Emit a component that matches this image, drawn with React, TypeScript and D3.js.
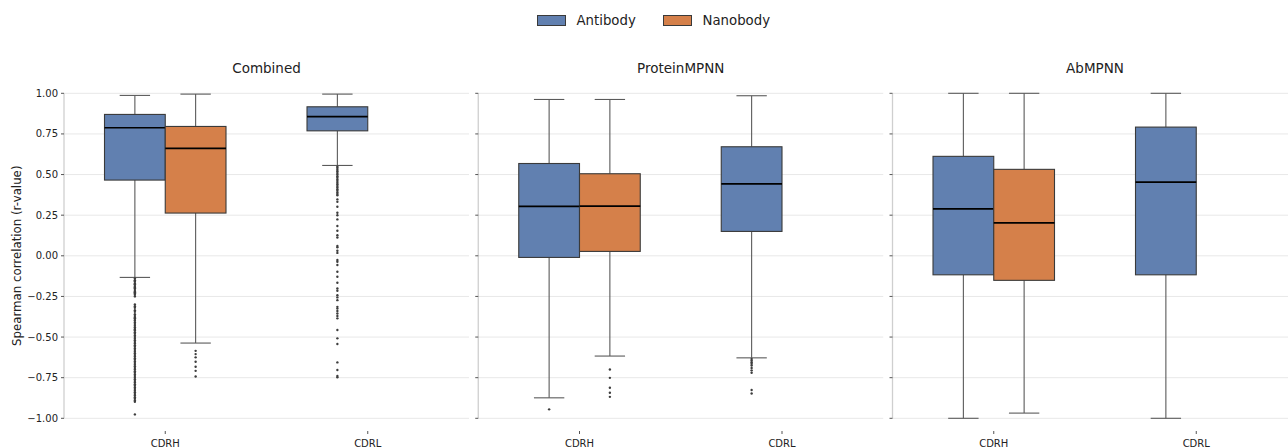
import React from "react";
import * as d3 from "d3";

// ---------- DATA ----------
const panels = ["Combined", "ProteinMPNN", "AbMPNN"];
const regions = ["CDRH", "CDRL"];
const groups = ["Antibody", "Nanobody"];
const yTicks = [-1.0, -0.75, -0.5, -0.25, 0.0, 0.25, 0.5, 0.75, 1.0];

// box stats: panel, region, lower whisker, q1, median, q3, upper whisker
const antibodyBoxes = [
  { panel: "Combined", region: "CDRH", lo: -0.133, q1: 0.466, med: 0.788, q3: 0.87, hi: 0.987 },
  { panel: "Combined", region: "CDRL", lo: 0.556, q1: 0.769, med: 0.856, q3: 0.917, hi: 0.995 },
  { panel: "ProteinMPNN", region: "CDRH", lo: -0.874, q1: -0.01, med: 0.304, q3: 0.568, hi: 0.962 },
  { panel: "ProteinMPNN", region: "CDRL", lo: -0.628, q1: 0.15, med: 0.443, q3: 0.671, hi: 0.985 },
  { panel: "AbMPNN", region: "CDRH", lo: -1.0, q1: -0.117, med: 0.289, q3: 0.612, hi: 1.0 },
  { panel: "AbMPNN", region: "CDRL", lo: -1.0, q1: -0.117, med: 0.454, q3: 0.792, hi: 1.0 },
];
const nanobodyBoxes = [
  { panel: "Combined", region: "CDRH", lo: -0.537, q1: 0.263, med: 0.661, q3: 0.796, hi: 0.995 },
  { panel: "ProteinMPNN", region: "CDRH", lo: -0.617, q1: 0.027, med: 0.306, q3: 0.505, hi: 0.962 },
  { panel: "AbMPNN", region: "CDRH", lo: -0.968, q1: -0.151, med: 0.203, q3: 0.532, hi: 1.0 },
];

// outliers
const combinedAntibodyCDRH = [
  -0.14, -0.15, -0.155, -0.16, -0.17, -0.175, -0.18, -0.19, -0.195, -0.2, -0.21, -0.22, -0.225,
  -0.23, -0.24, -0.25, -0.3, -0.31, -0.32, -0.335, -0.345, -0.36, -0.37, -0.38, -0.385, -0.395,
  -0.4, -0.41, -0.42, -0.43, -0.44, -0.45, -0.455, -0.46, -0.47, -0.48, -0.49, -0.5, -0.51, -0.52,
  -0.53, -0.54, -0.55, -0.56, -0.57, -0.58, -0.59, -0.6, -0.61, -0.62, -0.63, -0.64, -0.65, -0.66,
  -0.67, -0.68, -0.69, -0.7, -0.71, -0.72, -0.73, -0.74, -0.75, -0.76, -0.77, -0.78, -0.79, -0.8,
  -0.81, -0.82, -0.83, -0.84, -0.85, -0.86, -0.87, -0.88, -0.89, -0.898, -0.976,
];
const combinedNanobodyCDRH = [-0.585, -0.605, -0.625, -0.652, -0.683, -0.708, -0.743];
const combinedAntibodyCDRL = [
  0.548, 0.54, 0.53, 0.52, 0.51, 0.5, 0.49, 0.48, 0.47, 0.46, 0.45, 0.44, 0.43, 0.42, 0.41, 0.4,
  0.39, 0.38, 0.373, 0.347, 0.332, 0.302, 0.265, 0.25, 0.224, 0.183, 0.154, 0.127, 0.113, 0.06,
  0.052, 0.031, 0.018, -0.026, -0.037, -0.057, -0.098, -0.129, -0.166, -0.201, -0.215, -0.242,
  -0.256, -0.273, -0.314, -0.325, -0.34, -0.355, -0.37, -0.385, -0.457, -0.508, -0.543, -0.656,
  -0.703, -0.74, -0.748,
];
const proteinAntibodyCDRH = [-0.945];
const proteinNanobodyCDRH = [-0.7, -0.751, -0.812, -0.843, -0.868];
const proteinAntibodyCDRL = [-0.635, -0.645, -0.655, -0.665, -0.675, -0.69, -0.705, -0.72, -0.826, -0.847];

const outlierSets = [
  { panel: "Combined", region: "CDRH", group: "Antibody", values: combinedAntibodyCDRH },
  { panel: "Combined", region: "CDRH", group: "Nanobody", values: combinedNanobodyCDRH },
  { panel: "Combined", region: "CDRL", group: "Antibody", values: combinedAntibodyCDRL },
  { panel: "ProteinMPNN", region: "CDRH", group: "Antibody", values: proteinAntibodyCDRH },
  { panel: "ProteinMPNN", region: "CDRH", group: "Nanobody", values: proteinNanobodyCDRH },
  { panel: "ProteinMPNN", region: "CDRL", group: "Antibody", values: proteinAntibodyCDRL },
];

const colors: Record<string, string> = { Antibody: "#6180b0", Nanobody: "#d5804a" };

// ---------- LAYOUT ----------
const W = 1288;
const H = 448;
const panelX = d3.scaleBand<string>().domain(panels).range([64, 64 + 3 * 405 + 2 * 9.25]).paddingInner(9.25 / 414.25);
const y = d3.scaleLinear().domain([-1, 1]).range([418.3, 93.3]);
const FONT = "DejaVu Sans, sans-serif";

function Panel({ name, idx }: { name: string; idx: number }) {
  const x0 = panelX(name)!;
  const pw = panelX.bandwidth();
  const xr = d3.scaleBand<string>().domain(regions).range([x0, x0 + pw]);
  const bw = xr.bandwidth();
  const xg = d3.scaleBand<string>().domain(groups).range([-0.3 * bw, 0.3 * bw]);
  const boxW = xg.bandwidth();
  const boxes = [
    ...antibodyBoxes.filter((b) => b.panel === name).map((b) => ({ ...b, group: "Antibody" })),
    ...nanobodyBoxes.filter((b) => b.panel === name).map((b) => ({ ...b, group: "Nanobody" })),
  ];
  const outs = outlierSets.filter((o) => o.panel === name);
  return (
    <g>
      {yTicks.map((t) => (
        <line key={t} x1={x0} x2={x0 + pw} y1={y(t)} y2={y(t)} stroke="#e8e8e8" strokeWidth={1} />
      ))}
      <line x1={x0} x2={x0} y1={y(1)} y2={y(-1)} stroke="#cfcfcf" strokeWidth={1.3} />
      {yTicks.map((t) => (
        <line key={"t" + t} x1={x0 - 3} x2={x0} y1={y(t)} y2={y(t)} stroke="#555" strokeWidth={1} />
      ))}
      {idx === 0 &&
        yTicks.map((t) => (
          <text key={"l" + t} x={x0 - 6} y={y(t)} dy="0.35em" textAnchor="end" fontSize={10} fontFamily={FONT} fill="#222">
            {d3.format(".2f")(t).replace("-", "\u2212")}
          </text>
        ))}
      {regions.map((r) => {
        const cx = xr(r)! + bw / 2;
        return (
          <g key={r}>
            <line x1={cx} x2={cx} y1={431} y2={434} stroke="#555" strokeWidth={1} />
            <text x={cx} y={447} textAnchor="middle" fontSize={10} fontFamily={FONT} fill="#222">
              {r}
            </text>
          </g>
        );
      })}
      <text x={x0 + pw / 2} y={73} textAnchor="middle" fontSize={13.5} fontFamily={FONT} fill="#222">
        {name}
      </text>
      {boxes.map((b) => {
        const cx = xr(b.region)! + bw / 2 + xg(b.group)! + boxW / 2;
        const left = cx - boxW / 2;
        const capW = boxW / 2;
        return (
          <g key={b.region + b.group}>
            <line x1={cx} x2={cx} y1={y(b.q3)} y2={y(b.hi)} stroke="#5a5a5a" strokeWidth={1.1} />
            <line x1={cx} x2={cx} y1={y(b.q1)} y2={y(b.lo)} stroke="#5a5a5a" strokeWidth={1.1} />
            <line x1={cx - capW / 2} x2={cx + capW / 2} y1={y(b.hi)} y2={y(b.hi)} stroke="#5a5a5a" strokeWidth={1.1} />
            <line x1={cx - capW / 2} x2={cx + capW / 2} y1={y(b.lo)} y2={y(b.lo)} stroke="#5a5a5a" strokeWidth={1.1} />
            <rect x={left} y={y(b.q3)} width={boxW} height={y(b.q1) - y(b.q3)} fill={colors[b.group]} stroke="#3a3a3a" strokeWidth={1.1} />
            <line x1={left} x2={left + boxW} y1={y(b.med)} y2={y(b.med)} stroke="#000" strokeWidth={1.7} />
          </g>
        );
      })}
      {outs.map((o) =>
        o.values.map((v, i) => {
          const cx = xr(o.region)! + bw / 2 + xg(o.group)! + boxW / 2;
          return <circle key={o.region + o.group + i} cx={cx} cy={y(v)} r={1.2} fill="#3d3d3d" />;
        })
      )}
    </g>
  );
}

export default function App() {
  return (
    <svg width={W} height={H} style={{ position: "absolute", left: 0, top: 0, background: "#fff" }}>
      <rect x={0} y={0} width={W} height={H} fill="#fff" />
      {panels.map((p, i) => (
        <Panel key={p} name={p} idx={i} />
      ))}
      <text
        transform={`translate(21, ${y(0)}) rotate(-90)`}
        textAnchor="middle"
        fontSize={11.8}
        fontFamily={FONT}
        fill="#222"
      >
        Spearman correlation (r-value)
      </text>
      {groups.map((g, i) => {
        const lx = [537.5, 663.5][i];
        return (
          <g key={g}>
            <rect x={lx} y={15.5} width={28} height={10} fill={colors[g]} stroke="#3a3a3a" strokeWidth={1} />
            <text x={lx + 39} y={25} fontSize={13.3} fontFamily={FONT} fill="#222">
              {g}
            </text>
          </g>
        );
      })}
    </svg>
  );
}
